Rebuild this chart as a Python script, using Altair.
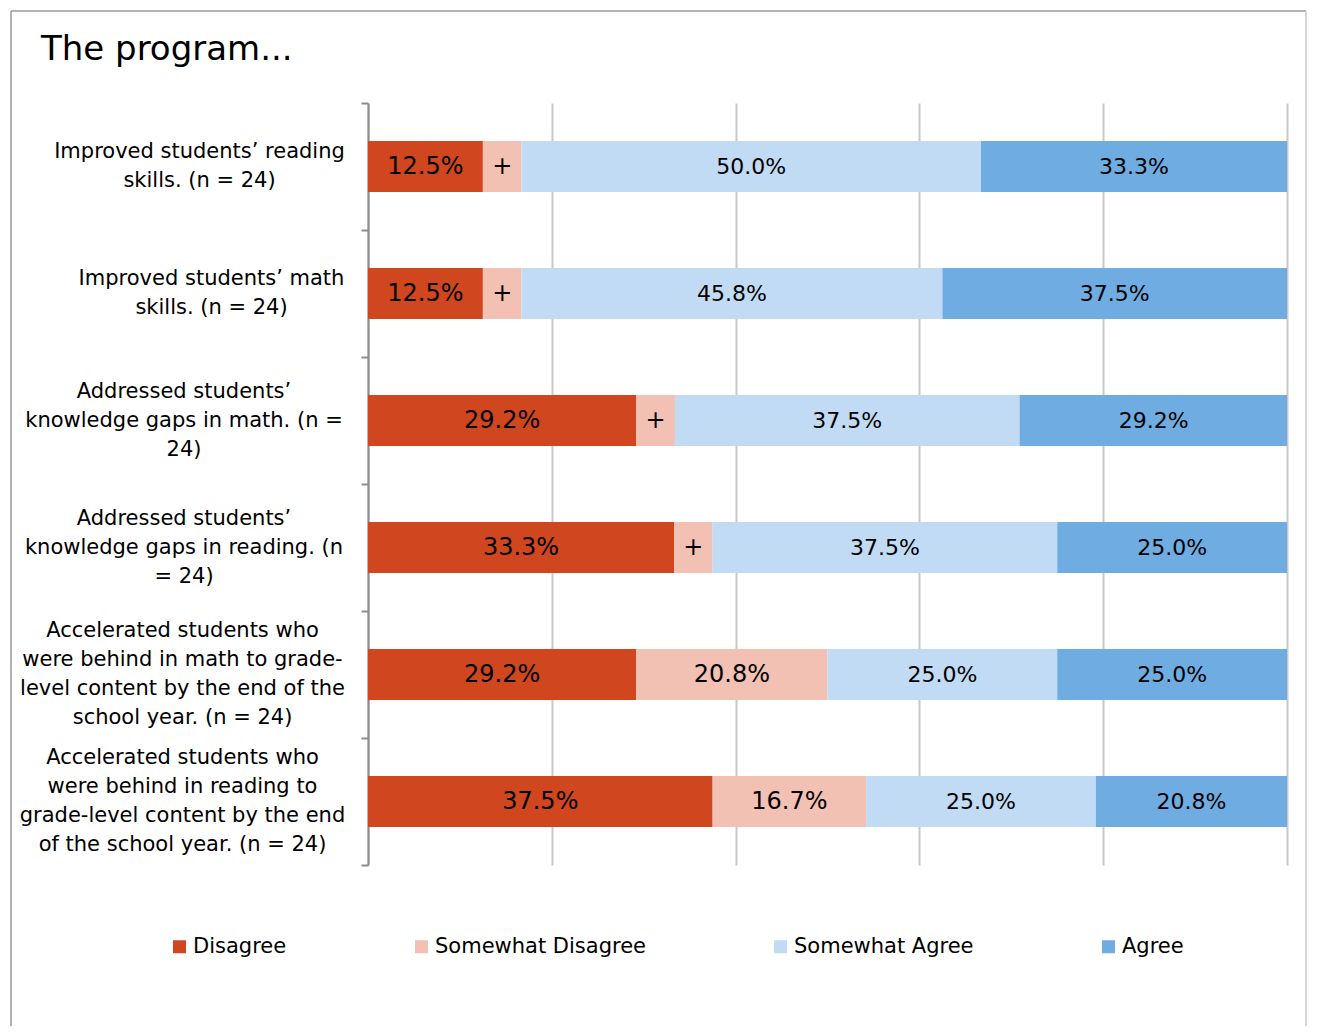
import altair as alt
import pandas as pd

items = [
    "Improved students’ reading|skills. (n = 24)",
    "Improved students’ math|skills. (n = 24)",
    "Addressed students’|knowledge gaps in math. (n =|24)",
    "Addressed students’|knowledge gaps in reading. (n|= 24)",
    "Accelerated students who|were behind in math to grade-|level content by the end of the|school year. (n = 24)",
    "Accelerated students who|were behind in reading to|grade-level content by the end|of the school year. (n = 24)",
]
categories = ["Disagree", "Somewhat Disagree", "Somewhat Agree", "Agree"]
disagree = [12.5, 12.5, 29.2, 33.3, 29.2, 37.5]
somewhat_disagree = [4.2, 4.2, 4.2, 4.2, 20.8, 16.7]
somewhat_agree = [50.0, 45.8, 37.5, 37.5, 25.0, 25.0]
agree = [33.3, 37.5, 29.2, 25.0, 25.0, 20.8]
colors = ["#D0461F", "#F3C1B3", "#C0DBF3", "#6FACE1"]
title_text = "The program..."

series = [disagree, somewhat_disagree, somewhat_agree, agree]
rows = []
for i, item in enumerate(items):
    for j, cat in enumerate(categories):
        v = series[j][i]
        rows.append({"item": item, "category": cat, "order": j, "value": v,
                     "label": f"{v:.1f}%" if v >= 5 else "+"})
df = pd.DataFrame(rows)
label_df = pd.DataFrame({"item": items, "row": list(range(len(items)))})

FONT = "DejaVu Sans"
LINE_H = 29

xaxis = alt.Axis(values=[0, 20, 40, 60, 80, 100], labels=False, ticks=False,
                 domain=False, grid=True, gridColor="#C8C8C8", gridWidth=2, title=None)
xscale = alt.Scale(domain=[0, 100], nice=False, clamp=True)
yscale = alt.Scale(paddingInner=0, paddingOuter=0)
yaxis = alt.Axis(title=None, labels=False, grid=False, domain=True, domainColor="#8C8C8C",
                 domainWidth=2, ticks=True, tickBand="extent", tickSize=7,
                 tickColor="#8C8C8C", tickWidth=2)

base = alt.Chart(df).transform_stack(
    stack="value", groupby=["item"], as_=["x0", "x1"],
    sort=[alt.SortField("order", order="ascending")]
).transform_calculate(mid="(datum.x0 + datum.x1) / 2")

bars = base.mark_bar(height={"band": 0.4}).encode(
    x=alt.X("x0:Q", scale=xscale, axis=xaxis),
    x2="x1:Q",
    y=alt.Y("item:N", sort=items, scale=yscale, axis=yaxis),
    color=alt.Color("category:N", sort=categories,
                    scale=alt.Scale(domain=categories, range=colors),
                    legend=alt.Legend(orient="none", legendX=-199, legendY=833,
                                      direction="horizontal", columns=4, title=None,
                                      symbolType="square", symbolSize=169,
                                      symbolStrokeWidth=0, labelFont=FONT,
                                      labelFontSize=21, labelColor="black",
                                      labelLimit=0, labelOffset=3, columnPadding=124)),
)

texts = base.mark_text(font=FONT, color="black", baseline="middle", align="center").encode(
    x=alt.X("mid:Q", scale=xscale, axis=xaxis),
    y=alt.Y("item:N", sort=items, scale=yscale, axis=yaxis),
    text="label:N",
    size=alt.condition("datum.order < 2", alt.value(24), alt.value(22)),
)


def label_layer(rows_sel, center_px):
    n_lines = items[rows_sel[0]].count("|") + 1
    return alt.Chart(label_df).transform_filter(
        alt.FieldOneOfPredicate(field="row", oneOf=rows_sel)
    ).mark_text(font=FONT, fontSize=21, color="black", align="center",
                baseline="middle", lineBreak="|", lineHeight=LINE_H,
                dy=-(n_lines - 1) * LINE_H / 2).encode(
        x=alt.value(center_px - 368),
        y=alt.Y("item:N", sort=items, scale=yscale, axis=yaxis),
        text="item:N",
    )


lab1 = label_layer([0], 199.5)
lab2 = label_layer([1], 211.5)
lab3 = label_layer([2, 3], 184)
lab4 = label_layer([4, 5], 182.5)

one = pd.DataFrame({"a": [0]})
frame_left = alt.Chart(one).mark_rule(color="#9A9A9A", strokeWidth=1.5).encode(
    x=alt.value(-357), y=alt.value(-92), y2=alt.value(923))
frame_top = alt.Chart(one).mark_rule(color="#9A9A9A", strokeWidth=1.5).encode(
    x=alt.value(-357), x2=alt.value(938), y=alt.value(-92))
frame_right = alt.Chart(one).mark_rule(color="#C8C8C8", strokeWidth=1.5).encode(
    x=alt.value(938), y=alt.value(-92), y2=alt.value(923))

title = alt.Chart(pd.DataFrame({"t": [title_text]})).mark_text(
    font=FONT, fontSize=34, align="left", baseline="alphabetic", color="black"
).encode(x=alt.value(-327), y=alt.value(-43), text="t:N")

chart = alt.layer(
    bars, texts, lab1, lab2, lab3, lab4, frame_left, frame_top, frame_right, title
).properties(
    width=919, height=762,
    autosize=alt.AutoSizeParams(type="none"),
    padding={"left": 360, "top": 95, "right": 21, "bottom": 161},
    background="white",
).configure_view(stroke=None)

chart.save("out.html", embed_options={"renderer": "svg", "actions": False})
